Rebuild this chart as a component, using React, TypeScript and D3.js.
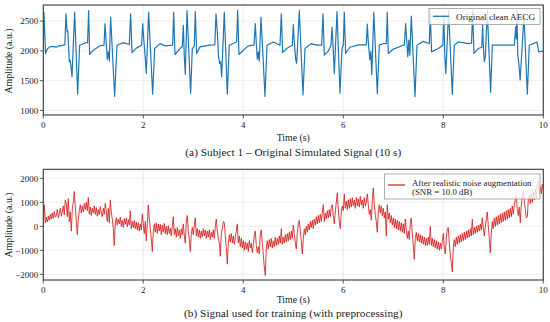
import React from 'react';
import * as d3 from 'd3';

const xTicks = [0, 2, 4, 6, 8, 10];
const topYTicks = [1000, 1500, 2000, 2500];
const botYTicks = [-2000, -1000, 0, 1000, 2000];

const cleanTimes = [
  0.0, 0.012, 0.045, 0.08, 0.13, 0.2, 0.25, 0.3, 0.43, 0.454, 0.475, 0.49, 0.52, 0.535, 0.547, 0.574, 0.627, 0.687, 0.727, 0.8, 0.867, 0.885, 0.907, 0.927,
  1.0, 1.134, 1.214, 1.234, 1.26, 1.28, 1.3, 1.32, 1.347, 1.427, 1.474, 1.6, 1.72, 1.747, 1.774, 1.867, 1.967, 1.987,
  2.014, 2.04, 2.06, 2.107, 2.187, 2.227, 2.334, 2.434, 2.587, 2.607, 2.634, 2.734, 2.78, 2.8, 2.82, 2.84, 2.874, 2.947, 2.98,
  3.02, 3.04, 3.067, 3.134, 3.33, 3.43, 3.454, 3.48, 3.505, 3.527, 3.545, 3.567, 3.62, 3.68, 3.72, 3.867, 3.887, 3.914,
  4.0, 4.1, 4.214, 4.24, 4.26, 4.28, 4.3, 4.32, 4.354, 4.434, 4.474, 4.6, 4.734, 4.76, 4.787, 4.867, 4.98,
  5.0, 5.02, 5.047, 5.067, 5.12, 5.194, 5.234, 5.354, 5.467, 5.567, 5.594, 5.62, 5.7, 5.754, 5.774, 5.795, 5.82, 5.874, 5.934, 5.974,
  6.0, 6.02, 6.047, 6.13, 6.3, 6.46, 6.48, 6.5, 6.53, 6.55, 6.57, 6.61, 6.68, 6.72, 6.8, 6.86, 6.88, 6.9,
  7.0, 7.2, 7.22, 7.247, 7.27, 7.29, 7.31, 7.33, 7.36, 7.434, 7.474, 7.6, 7.72, 7.74, 7.765, 7.9, 7.99,
  8.01, 8.03, 8.05, 8.107, 8.18, 8.22, 8.3, 8.5, 8.565, 8.587, 8.614, 8.7, 8.77, 8.787, 8.8, 8.82, 8.84, 8.88, 8.947, 8.98,
  9.2, 9.42, 9.447, 9.46, 9.47, 9.49, 9.51, 9.537, 9.614, 9.68, 9.72, 9.8, 9.87, 9.91, 9.96, 10.0,
];
const cleanValues = [
  2080, 2650, 1955, 2030, 2067, 2075, 2060, 2080, 2100, 2622, 2320, 2340, 1817, 1850, 1790, 1567, 2650, 1272, 2095, 2120, 2140, 2135, 2678, 1939,
  2011, 2084, 2095, 2456, 2122, 1861, 1984, 1828, 2567, 1234, 2095, 2139, 2106, 2622, 1972, 2050, 2095, 2456,
  2150, 1861, 1622, 2650, 1272, 2039, 2122, 2084, 2095, 2650, 1939, 2039, 2070, 2428, 1900, 1606, 2678, 1289, 2039,
  2080, 2661, 1956, 2067, 2095, 2100, 2622, 2317, 1900, 1789, 1820, 1567, 2650, 1272, 2095, 2150, 2678, 1939,
  2011, 2084, 2095, 2456, 2122, 1861, 1984, 1828, 2567, 1234, 2095, 2150, 2095, 2622, 1972, 2039, 2095,
  2439, 2150, 1861, 1789, 2678, 1261, 2039, 2122, 2095, 2095, 2622, 1928, 1995, 2095, 2400, 2095, 1622, 2661, 1289, 2039,
  2095, 2650, 1956, 2060, 2100, 2100, 2450, 2150, 1850, 1990, 1600, 2650, 1280, 2100, 2120, 2120, 2650, 1956,
  2030, 2095, 2095, 2456, 2150, 1900, 2180, 1928, 2584, 1234, 2095, 2160, 2120, 2650, 1983, 2040, 2095,
  2622, 1900, 1622, 2678, 1272, 2095, 2150, 2120, 2130, 2678, 1956, 2039, 2060, 2439, 2095, 1817, 1900, 2678, 1306, 2095,
  2095, 2095, 2400, 2200, 2678, 1928, 1789, 1511, 2595, 1272, 2095, 2122, 2150, 1983, 1990, 2000,
];

const noisyStep = 0.02;
const noisyValues = [
  50, 900, 150, 380, 180, 420, 250, 500, 300, 560, 330, 620, 380, 450, 700, 350, 520, 750, 420, 600, 850, 480, 1100, 950, 400, 1150, 200, 600, -200, 700, 1000, 1450, 800, 200, -350, 300, 650, 900, 550, 850, 600, 950, 700, 1000, 650, 1200, 500, 800, 450, 750,
  550, 850, 500, 780, 420, 700, 480, 820, 550, 400, 750, 500, 950, 600, 200, 750, 150, 1100, 600, 300, -100, -800, 100, 350, 50, 300, 100, 380, 0, 250, -50, 320, 80, 350, -20, 280, 50, 650, -100, 200, -50, 250, -100, 180, -150, 150, -200, 100, -150, 500,
  100, -300, 200, -600, 100, 900, 300, -100, -500, -1050, -200, 100, -250, 150, -300, 100, -200, 80, -350, 50, -250, 120, -300, 0, -350, 20, -300, -80, -400, 0, 400, -350, -100, -450, -50, -400, -150, -500, -100, -350, 100, -400, -700, 200, 450, -200, -500, -1050, -300, -50,
  -350, 50, 350, -400, -100, -450, -150, -500, -200, -450, -100, -400, -150, -500, -200, -450, -150, -550, -250, -450, -150, -500, 0, 300, -200, -500, -700, -1250, -300, -100, 200, 150, -400, -900, -1580, -700, -350, -650, -300, -700, -400, -750, -450, -200, 100, -700, -400, -850, -500, -900,
  -600, -1000, -650, -950, -700, -1050, -600, -900, -700, -1100, -750, -400, -200, -800, -1100, -850, -1150, -300, -150, -700, -1200, -1700, -2050, -900, -600, -950, -550, -850, -500, -900, -600, -850, -450, -800, -500, -750, -400, -700, -100, -750, -450, -700, -350, -650, -300, -600, -250, -550, -200, -500,
  50, -350, -700, -950, -300, 100, 250, -200, -600, -1150, -500, -100, -350, 0, -250, 100, -150, 200, -50, 250, -100, 300, 50, 400, 100, 450, 150, 500, 200, 550, 900, 200, 550, 300, 650, 350, 700, 400, 800, 900, 450, 100, 600, 1000, 1400, 700, 200, -100, 600, 850,
  650, 1350, 750, 1050, 700, 1100, 750, 1150, 800, 1200, 850, 1100, 750, 1200, 850, 1150, 800, 1250, 900, 1100, 750, 1200, 850, 1000, 1350, 900, 500, 700, 250, 1100, 1600, 900, 500, 200, -250, 600, 900, 550, 850, 450, 750, 350, 600, -400, 900, 300, 550, 150, 450, 50,
  350, -50, 300, -100, 250, -150, 200, -200, 150, -250, 100, -300, 300, -200, -500, -200, -550, 150, 350, -300, -800, -1380, -500, -250, -600, -300, -650, -350, -700, -400, -750, -450, -800, -500, -800, -450, -750, 0, -800, -500, -850, -550, -900, -600, -950, -650, -1000, -700, -950, -600,
  -300, -900, -1150, -500, -100, -50, -700, -1200, -1500, -1900, -900, -550, -850, -450, -750, -400, -700, -350, -650, -300, -600, -250, -550, -200, -500, -150, -450, -100, -400, 300, -350, -50, -300, 0, -250, 50, -200, 100, -150, 350, -100, -400, 0, 300, 600, 0, -500, -1100, -300, 200,
  -100, 350, 0, 400, 50, 450, 100, 500, 150, 550, 200, 600, 250, 650, 300, 700, 350, 750, 400, 850, 500, 900, 1100, 1300, 700, 450, 800, 150, 900, 1200, 1500, 1050, 700, 350, 400, 1100, 1300, 950, 1350, 1000, 1450, 1100, 1550, 1200, 1700, 1900, 1300, 1650, 1350, 1750,
  1500,
];

const FONT = '"Liberation Serif", "DejaVu Serif", serif';
const fmt = (v: number) => (v < 0 ? '\u2212' + Math.abs(v) : String(v));

export default function App() {
  const W = 550;
  const H = 322;
  const L = 43.3;
  const R = 543.3;
  const x = d3.scaleLinear().domain([0, 10]).range([L, R]);
  const yTop = d3.scaleLinear().domain([923, 2770]).range([115, 5]);
  const yBot = d3.scaleLinear().domain([-2237, 2375]).range([280, 169.3]);

  const cleanPts = cleanTimes.map((t, i) => [t, cleanValues[i]] as [number, number]);
  const noisyPts = noisyValues.map((v, i) => [i * noisyStep, v] as [number, number]);

  const lineTop = d3.line<[number, number]>().x((d) => x(d[0])).y((d) => yTop(d[1]));
  const lineBot = d3.line<[number, number]>().x((d) => x(d[0])).y((d) => yBot(d[1]));

  const panel = (
    y: d3.ScaleLinear<number, number>,
    yTicks: number[],
    top: number,
    bottom: number,
    key: string
  ) => (
    <g key={key}>
      {xTicks.map((t) => (
        <line key={'gx' + t} x1={x(t)} x2={x(t)} y1={top} y2={bottom} stroke="#e6e6e6" strokeWidth={0.7} />
      ))}
      {yTicks.map((t) => (
        <line key={'gy' + t} x1={L} x2={R} y1={y(t)} y2={y(t)} stroke="#e6e6e6" strokeWidth={0.7} />
      ))}
      {xTicks.map((t) => (
        <g key={'tx' + t}>
          <line x1={x(t)} x2={x(t)} y1={bottom} y2={bottom + 3.5} stroke="#333" strokeWidth={0.8} />
          <text x={x(t)} y={bottom + 12.5} textAnchor="middle" fontSize={9} fontFamily={FONT} fill="#222">
            {t}
          </text>
        </g>
      ))}
      {yTicks.map((t) => (
        <g key={'ty' + t}>
          <line x1={L - 3.5} x2={L} y1={y(t)} y2={y(t)} stroke="#333" strokeWidth={0.8} />
          <text x={L - 5} y={y(t) + 3.2} textAnchor="end" fontSize={9} fontFamily={FONT} fill="#222">
            {fmt(t)}
          </text>
        </g>
      ))}
    </g>
  );

  return (
    <svg width={W} height={H} style={{ position: 'absolute', left: 0, top: 0, background: '#fff' }}>
      <defs>
        <clipPath id="clipTop">
          <rect x={L} y={5} width={R - L} height={110} />
        </clipPath>
        <clipPath id="clipBot">
          <rect x={L} y={169.3} width={R - L} height={110.7} />
        </clipPath>
      </defs>
      <rect x={0} y={0} width={W} height={H} fill="#fff" />

      {panel(yTop, topYTicks, 5, 115, 'top')}
      <path d={lineTop(cleanPts) || ''} fill="none" stroke="#1f77b4" strokeWidth={1.2} strokeLinejoin="round" clipPath="url(#clipTop)" />
      <rect x={L} y={5} width={R - L} height={110} fill="none" stroke="#3a3a3a" strokeWidth={1.1} />
      <text transform={`translate(11.5,61) rotate(-90)`} textAnchor="middle" fontSize={9.8} fontFamily={FONT} fill="#222">
        Amplitude (a.u.)
      </text>
      <text x={293.3} y={140.5} textAnchor="middle" fontSize={9.8} fontFamily={FONT} fill="#222">
        Time (s)
      </text>
      <text x={293.3} y={156} textAnchor="middle" fontSize={11.3} fontFamily={FONT} fill="#222">
        (a) Subject 1 – Original Simulated Signal (10 s)
      </text>
      <g>
        <rect x={429} y={8.5} width={111} height={16} fill="#fff" fillOpacity={0.8} stroke="#999" strokeWidth={0.8} />
        <line x1={433} x2={449} y1={16.3} y2={16.3} stroke="#1f77b4" strokeWidth={1.3} />
        <text x={456} y={19.6} fontSize={9.2} fontFamily={FONT} fill="#222">
          Original clean AECG
        </text>
      </g>

      {panel(yBot, botYTicks, 169.3, 280, 'bot')}
      <path d={lineBot(noisyPts) || ''} fill="none" stroke="#d62728" strokeWidth={0.9} strokeLinejoin="round" clipPath="url(#clipBot)" />
      <rect x={L} y={169.3} width={R - L} height={110.7} fill="none" stroke="#3a3a3a" strokeWidth={1.1} />
      <text transform={`translate(11.5,225) rotate(-90)`} textAnchor="middle" fontSize={9.8} fontFamily={FONT} fill="#222">
        Amplitude (a.u.)
      </text>
      <text x={293.3} y={302.5} textAnchor="middle" fontSize={9.8} fontFamily={FONT} fill="#222">
        Time (s)
      </text>
      <text x={293.3} y={317} textAnchor="middle" fontSize={11.3} fontFamily={FONT} fill="#222">
        (b) Signal used for training (with preprocessing)
      </text>
      <g>
        <rect x={384.5} y={174} width={155.5} height={25} fill="#fff" fillOpacity={0.8} stroke="#999" strokeWidth={0.8} />
        <line x1={388} x2={405} y1={185} y2={185} stroke="#d62728" strokeWidth={1.3} />
        <text x={412} y={185.5} fontSize={8.8} fontFamily={FONT} fill="#222">
          After realistic noise augmentation
        </text>
        <text x={412} y={195} fontSize={8.8} fontFamily={FONT} fill="#222">
          (SNR = 10.0 dB)
        </text>
      </g>
    </svg>
  );
}
